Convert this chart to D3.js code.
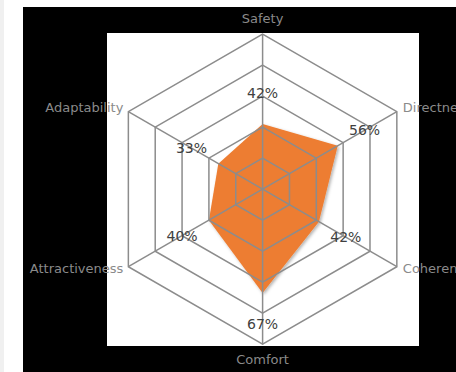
<!DOCTYPE html>
<html>
<head>
<meta charset="utf-8">
<script src="https://cdn.jsdelivr.net/npm/d3@7"></script>
<style>
  body { margin: 0; background: #fff; }
</style>
</head>
<body>
<script>
// chart data
const categories = ["Safety", "Directness", "Coherence", "Comfort", "Attractiveness", "Adaptability"];
const values = [42, 56, 42, 67, 40, 33];
const ringTicks = [20, 40, 60, 80, 100];

const W = 456, H = 372;
const cx = 262.6, cy = 189.2, R = 155;

const svg = d3.select("body").append("svg")
  .attr("width", W)
  .attr("height", H);

// left strip + black frame + white plot area
svg.append("rect").attr("x", 0).attr("y", 0).attr("width", 4).attr("height", H).attr("fill", "#f0f0f0");
svg.append("rect").attr("x", 23).attr("y", 7).attr("width", W - 23).attr("height", H - 7).attr("fill", "#000");
svg.append("rect").attr("x", 107).attr("y", 33).attr("width", 312).attr("height", 313).attr("fill", "#fff");

const defs = svg.append("defs");
const f = defs.append("filter").attr("id", "shadow")
  .attr("x", "-20%").attr("y", "-20%").attr("width", "140%").attr("height", "140%");
f.append("feDropShadow")
  .attr("dx", 1.5).attr("dy", 1.5).attr("stdDeviation", 1.5)
  .attr("flood-color", "#000").attr("flood-opacity", 0.3);

const r = d3.scaleLinear().domain([0, 100]).range([0, R]);
const angle = d3.scalePoint().domain(categories).range([0, 2 * Math.PI * 5 / 6]);

function pt(cat, v) {
  const a = angle(cat);
  return [cx + r(v) * Math.sin(a), cy - r(v) * Math.cos(a)];
}

const g = svg.append("g");

// series area
g.append("path")
  .datum(categories.map((c, i) => pt(c, values[i])))
  .attr("d", d3.line().curve(d3.curveLinearClosed))
  .attr("fill", "#ed7d31")
  .attr("filter", "url(#shadow)");

// rings
g.selectAll(".ring")
  .data(ringTicks)
  .enter()
  .append("path")
  .attr("class", "ring")
  .attr("d", t => d3.line().curve(d3.curveLinearClosed)(categories.map(c => pt(c, t))))
  .attr("fill", "none")
  .attr("stroke", "#8c8c8c")
  .attr("stroke-width", 1.5);

// spokes
g.selectAll(".spoke")
  .data(categories)
  .enter()
  .append("line")
  .attr("class", "spoke")
  .attr("x1", cx).attr("y1", cy)
  .attr("x2", c => pt(c, 100)[0])
  .attr("y2", c => pt(c, 100)[1])
  .attr("stroke", "#8c8c8c")
  .attr("stroke-width", 1.5);

// data labels
g.selectAll(".val")
  .data(categories)
  .enter()
  .append("text")
  .attr("class", "val")
  .attr("x", (c, i) => cx + (r(values[i]) + 31) * Math.sin(angle(c)))
  .attr("y", (c, i) => cy - (r(values[i]) + 31) * Math.cos(angle(c)))
  .attr("text-anchor", "middle")
  .attr("dominant-baseline", "central")
  .style("font-family", "'DejaVu Sans', sans-serif")
  .style("font-size", "14px")
  .style("fill", "#404040")
  .text((c, i) => values[i] + "%");

// category labels
g.selectAll(".cat")
  .data(categories)
  .enter()
  .append("text")
  .attr("class", "cat")
  .attr("x", c => {
    const p = pt(c, 100);
    const s = Math.sin(angle(c));
    return p[0] + (Math.abs(s) < 0.01 ? 0 : (s > 0 ? 6 : -5));
  })
  .attr("y", c => {
    const p = pt(c, 100);
    const a = angle(c);
    const co = Math.cos(a);
    if (Math.abs(Math.sin(a)) < 0.01) return p[1] + (co > 0 ? -16 : 15);
    return p[1] + (co > 0 ? -4 : 2);
  })
  .attr("text-anchor", c => {
    const s = Math.sin(angle(c));
    return Math.abs(s) < 0.01 ? "middle" : (s > 0 ? "start" : "end");
  })
  .attr("dominant-baseline", "central")
  .style("font-family", "'DejaVu Sans', sans-serif")
  .style("font-size", "13px")
  .style("fill", "#8a8a8a")
  .text(c => c);
</script>
</body>
</html>
